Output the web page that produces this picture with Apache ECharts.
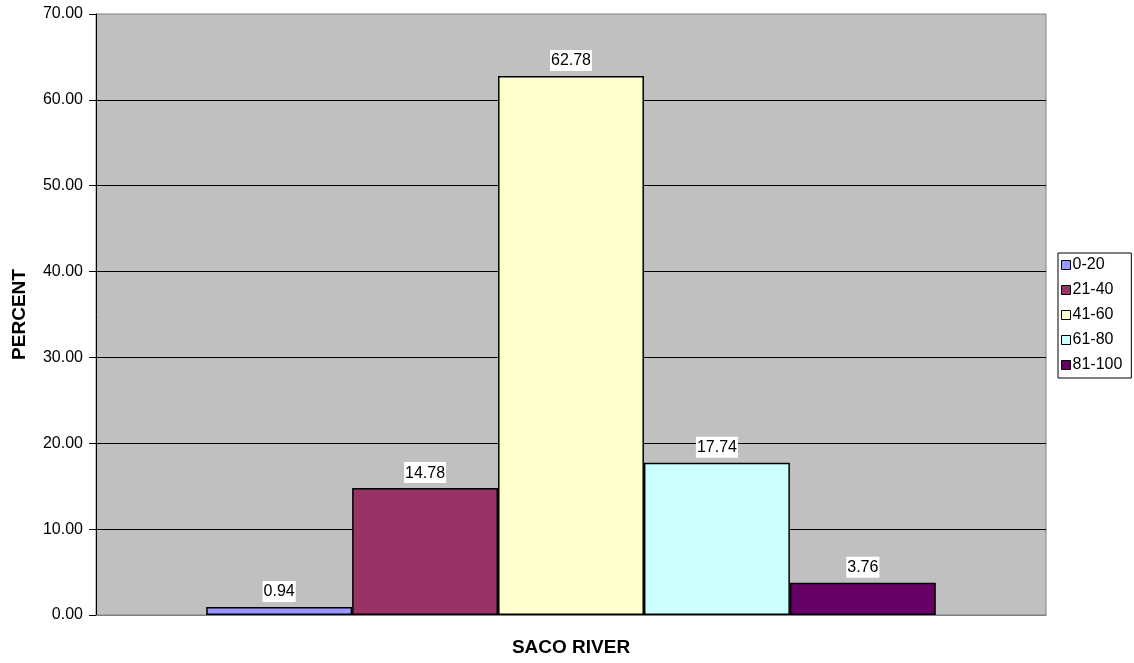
<!DOCTYPE html>
<html>
<head>
<meta charset="utf-8">
<script src="https://cdn.jsdelivr.net/npm/echarts@6/dist/echarts.min.js"></script>
<style>
html, body { margin: 0; padding: 0; background: #fff; }
#main { width: 1134px; height: 663px; }
</style>
</head>
<body>
<div id="main"></div>
<script>
var categories = ['SACO RIVER'];
var seriesNames = ['0-20', '21-40', '41-60', '61-80', '81-100'];
var seriesValues = [0.94, 14.78, 62.78, 17.74, 3.76];
var seriesColors = ['#9999FF', '#993366', '#FFFFCC', '#CCFFFF', '#660066'];

var font = 'Liberation Sans, Arial, sans-serif';

var series = seriesNames.map(function (name, i) {
    return {
        name: name,
        type: 'bar',
        data: [seriesValues[i]],
        barGap: '0%',
        barCategoryGap: '23.2%',
        itemStyle: {
            color: seriesColors[i],
            borderColor: '#000',
            borderWidth: 1.5
        },
        label: {
            show: true,
            position: 'top',
            distance: 5,
            formatter: function (p) { return p.value.toFixed(2); },
            color: '#000',
            fontFamily: font,
            fontSize: 16,
            backgroundColor: '#fff',
            padding: [3, 1, 2, 1]
        }
    };
});

var myChart = echarts.init(document.getElementById('main'));
myChart.setOption({
    animation: false,
    grid: {
        left: 96,
        right: 88,
        top: 14,
        bottom: 48,
        outerBoundsMode: 'none',
        show: true,
        backgroundColor: '#C0C0C0',
        borderColor: '#808080',
        borderWidth: 1
    },
    legend: {
        orient: 'vertical',
        left: 1058,
        top: 253,
        itemWidth: 9,
        itemHeight: 9,
        itemGap: 9,
        padding: [4, 9, 5, 3],
        borderColor: '#000',
        borderWidth: 1,
        textStyle: { fontFamily: font, fontSize: 16, lineHeight: 16, color: '#000', padding: [0, 0, 0, -3] },
        data: seriesNames.map(function (n) {
            return { name: n, icon: 'rect', itemStyle: { borderColor: '#000', borderWidth: 1 } };
        })
    },
    xAxis: {
        type: 'category',
        data: categories,
        name: 'SACO RIVER',
        nameLocation: 'middle',
        nameGap: 23,
        nameTextStyle: { fontFamily: font, fontSize: 19, fontWeight: 'bold', color: '#000' },
        axisLine: { lineStyle: { color: '#808080', width: 1 } },
        axisTick: { show: false },
        axisLabel: { show: false }
    },
    yAxis: {
        type: 'value',
        min: 0,
        max: 70,
        interval: 10,
        name: 'PERCENT',
        nameLocation: 'middle',
        nameGap: 67,
        nameTextStyle: { fontFamily: font, fontSize: 19, fontWeight: 'bold', color: '#000' },
        axisLine: { show: true, lineStyle: { color: '#000', width: 1 } },
        axisTick: { show: true, length: 7, inside: false, lineStyle: { color: '#000' } },
        axisLabel: {
            formatter: function (v) { return v.toFixed(2); },
            fontFamily: font,
            fontSize: 16,
            color: '#000',
            margin: 13
        },
        splitLine: { showMaxLine: false, lineStyle: { color: '#000', width: 1 } }
    },
    series: series
});
</script>
</body>
</html>
